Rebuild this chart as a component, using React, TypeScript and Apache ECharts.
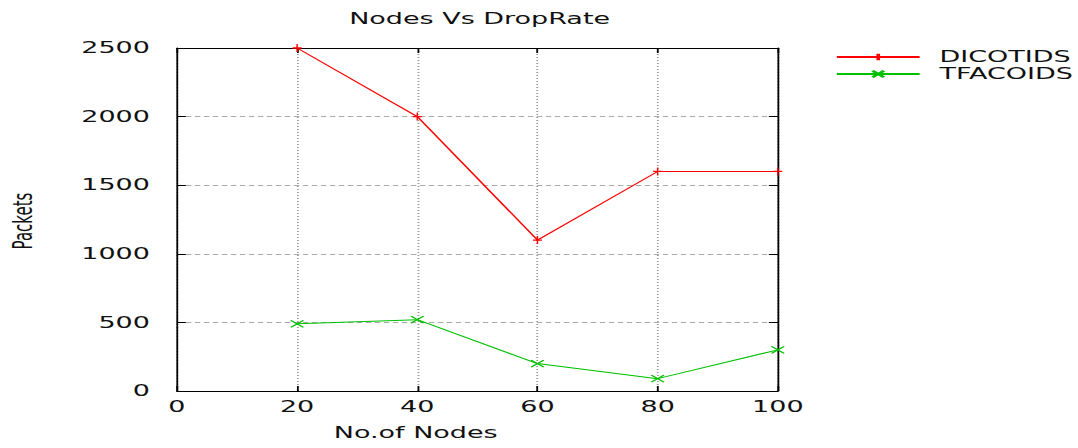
import React, { useEffect, useRef } from "react";
import * as echarts from "echarts";

const nodes = [20, 40, 60, 80, 100];
const dicotids = [2500, 2000, 1100, 1600, 1600];
const tfacoids = [490, 520, 200, 90, 300];
const seriesNames = ["DICOTIDS", "TFACOIDS"];
const titleText = "Nodes Vs DropRate";
const xName = "No.of Nodes";
const yName = "Packets";

const W = 1078;
const H = 448;
const IW = 599;
const S = W / IW;
const FONT = "DejaVu Sans";
const TXT = "#111";

export default function App() {
  const ref = useRef<HTMLDivElement>(null);
  useEffect(() => {
    if (!ref.current) return;
    const chart = echarts.init(ref.current, undefined, { renderer: "svg" });
    const tickCommon = { show: true, inside: true, length: 5, lineStyle: { color: "#000", width: 1 } };
    chart.setOption({
      animation: false,
      backgroundColor: "#fff",
      title: {
        text: titleText,
        left: 189,
        top: 6,
        textStyle: { fontFamily: FONT, fontSize: 15, fontWeight: "normal", color: TXT },
      },
      legend: {
        data: seriesNames,
        orient: "vertical",
        left: 464,
        top: 49,
        padding: 0,
        itemWidth: 46,
        itemHeight: 8,
        itemGap: 1,
        textStyle: { fontFamily: FONT, fontSize: 15, lineHeight: 16, color: TXT, padding: [0, 0, 0, 6] },
      },
      grid: { left: 98.3, right: 166.8, top: 48, bottom: 57 },
      xAxis: [
        {
          type: "value",
          min: 0,
          max: 100,
          interval: 20,
          position: "bottom",
          axisLine: { show: true, lineStyle: { color: "#000", width: 1 } },
          axisTick: tickCommon,
          axisLabel: { margin: 8, fontFamily: FONT, fontSize: 15, color: TXT },
          splitLine: { show: true, lineStyle: { color: "#999", type: [1, 2], width: 1 } },
        },
        {
          type: "value",
          min: 0,
          max: 100,
          interval: 20,
          position: "top",
          axisLine: { show: true, onZero: false, lineStyle: { color: "#000", width: 1 } },
          axisTick: tickCommon,
          axisLabel: { show: false },
          splitLine: { show: false },
        },
      ],
      yAxis: [
        {
          type: "value",
          min: 0,
          max: 2500,
          interval: 500,
          position: "left",
          axisLine: { show: true, lineStyle: { color: "#000", width: 1 } },
          axisTick: tickCommon,
          axisLabel: {
            margin: 15,
            fontFamily: FONT,
            fontSize: 15,
            color: TXT,
            formatter: (v: number) => String(v),
          },
          splitLine: { show: true, lineStyle: { color: "#aaa", type: [3, 2], width: 1 } },
        },
        {
          type: "value",
          min: 0,
          max: 2500,
          interval: 500,
          position: "right",
          axisLine: { show: true, onZero: false, lineStyle: { color: "#000", width: 1 } },
          axisTick: tickCommon,
          axisLabel: { show: false },
          splitLine: { show: false },
        },
      ],
      series: [
        {
          name: seriesNames[0],
          type: "line",
          xAxisIndex: 0,
          yAxisIndex: 0,
          data: nodes.map((n, i) => [n, dicotids[i]]),
          color: "#ff0000",
          lineStyle: { color: "#ff0000", width: 1 },
          symbol: "path://M5,0L5,10M0,5L10,5",
          symbolSize: [5, 8],
          itemStyle: { color: "#ff0000", borderColor: "#ff0000", borderWidth: 1 },
          z: 3,
        },
        {
          name: seriesNames[1],
          type: "line",
          xAxisIndex: 0,
          yAxisIndex: 0,
          data: nodes.map((n, i) => [n, tfacoids[i]]),
          color: "#00c000",
          lineStyle: { color: "#00c000", width: 1 },
          symbol: "path://M0,0L10,10M0,10L10,0",
          symbolSize: [7, 7],
          itemStyle: { color: "#00c000", borderColor: "#00c000", borderWidth: 1 },
          z: 3,
        },
      ],
      graphic: [
        {
          type: "text",
          x: 231,
          y: 433,
          style: {
            text: xName,
            fontFamily: FONT,
            fontSize: 15,
            fill: TXT,
            textAlign: "center",
            textVerticalAlign: "middle",
          },
        },
        {
          type: "text",
          x: 12.5,
          y: 221,
          rotation: Math.PI / 2,
          style: {
            text: yName,
            fontFamily: FONT,
            fontSize: 15,
            fill: TXT,
            textAlign: "center",
            textVerticalAlign: "middle",
          },
        },
      ],
    });
    return () => chart.dispose();
  }, []);

  return (
    <div
      style={{
        position: "fixed",
        left: 0,
        top: 0,
        width: W,
        height: H,
        overflow: "hidden",
        background: "#fff",
      }}
    >
      <div
        ref={ref}
        style={{
          width: IW,
          height: H,
          transform: `scaleX(${S})`,
          transformOrigin: "0 0",
        }}
      />
    </div>
  );
}
